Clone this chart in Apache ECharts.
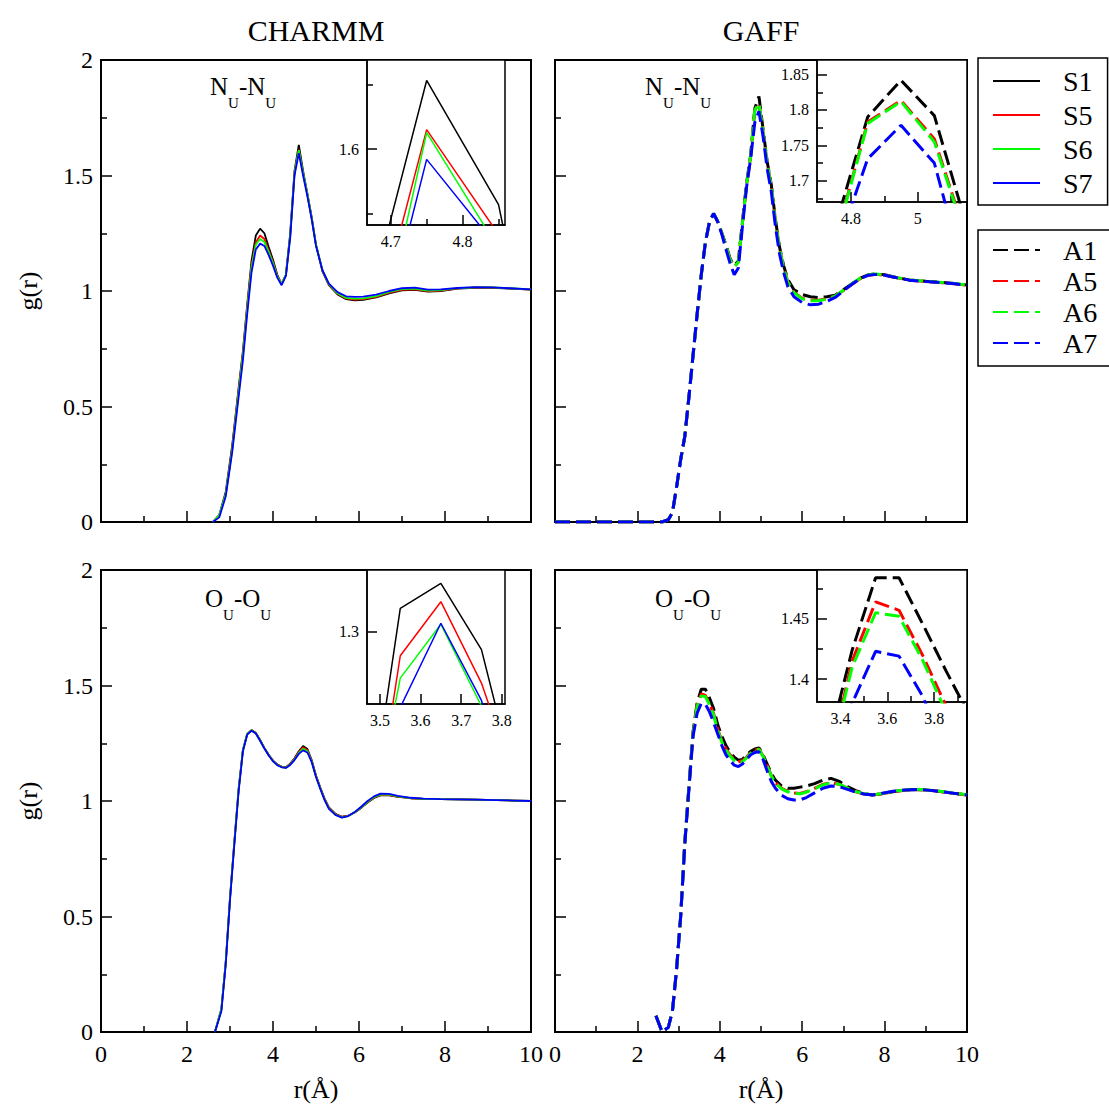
<!DOCTYPE html>
<html>
<head>
<meta charset="utf-8">
<script src="https://cdn.jsdelivr.net/npm/echarts@6.0.0/dist/echarts.min.js"></script>
<style>
html,body{margin:0;padding:0;background:#fff}
#chart{width:1109px;height:1115px}
</style>
</head>
<body>
<div id="chart"></div>
<script>
// ---- CHARMM N_U-N_U (top left) ----
var rCN = [2.6, 2.75, 2.9, 3.05, 3.2, 3.3, 3.4, 3.5, 3.6, 3.7, 3.8, 3.9, 4.0, 4.1, 4.2, 4.3, 4.4, 4.5, 4.6, 4.7, 4.8, 4.9, 5.0, 5.15, 5.3, 5.5, 5.7, 5.9, 6.1, 6.4, 6.7, 7.0, 7.3, 7.6, 7.9, 8.3, 8.7, 9.1, 9.5, 10.0];
var cnS1 = [0, 0.03, 0.13, 0.33, 0.58, 0.74, 0.94, 1.13, 1.24, 1.27, 1.25, 1.19, 1.135, 1.07, 1.03, 1.07, 1.25, 1.52, 1.632, 1.52, 1.42, 1.32, 1.20, 1.085, 1.025, 0.985, 0.965, 0.96, 0.962, 0.972, 0.99, 1.003, 1.005, 0.997, 1.0, 1.01, 1.014, 1.014, 1.01, 1.006];
var cnS5 = [0, 0.03, 0.12, 0.32, 0.57, 0.73, 0.93, 1.11, 1.21, 1.24, 1.225, 1.175, 1.125, 1.065, 1.03, 1.07, 1.24, 1.51, 1.612, 1.51, 1.42, 1.315, 1.20, 1.088, 1.028, 0.988, 0.968, 0.963, 0.965, 0.975, 0.993, 1.005, 1.007, 0.999, 1.002, 1.011, 1.015, 1.015, 1.011, 1.006];
var cnS6 = [0, 0.03, 0.12, 0.31, 0.56, 0.72, 0.92, 1.10, 1.20, 1.225, 1.212, 1.168, 1.12, 1.063, 1.03, 1.07, 1.24, 1.51, 1.61, 1.51, 1.42, 1.315, 1.20, 1.09, 1.03, 0.99, 0.97, 0.967, 0.968, 0.978, 0.996, 1.008, 1.01, 1.002, 1.004, 1.012, 1.016, 1.016, 1.012, 1.007];
var cnS7 = [0, 0.02, 0.11, 0.30, 0.54, 0.70, 0.90, 1.08, 1.18, 1.205, 1.195, 1.155, 1.11, 1.058, 1.025, 1.065, 1.23, 1.50, 1.597, 1.50, 1.41, 1.31, 1.195, 1.09, 1.032, 0.995, 0.977, 0.975, 0.976, 0.984, 1.0, 1.012, 1.015, 1.006, 1.007, 1.013, 1.017, 1.016, 1.012, 1.007];

// ---- GAFF N_U-N_U (top right) ----
var rGN = [0, 2.6, 2.75, 2.85, 2.95, 3.05, 3.15, 3.25, 3.35, 3.45, 3.55, 3.65, 3.75, 3.85, 3.95, 4.05, 4.15, 4.25, 4.35, 4.45, 4.55, 4.65, 4.75, 4.85, 4.95, 5.05, 5.15, 5.25, 5.35, 5.45, 5.55, 5.65, 5.8, 6.0, 6.2, 6.4, 6.6, 6.8, 7.0, 7.2, 7.4, 7.6, 7.8, 8.0, 8.3, 8.6, 9.0, 9.4, 9.7, 10.0];
var gnA1 = [0, 0, 0.01, 0.04, 0.15, 0.27, 0.37, 0.54, 0.72, 0.90, 1.07, 1.21, 1.30, 1.336, 1.30, 1.25, 1.20, 1.14, 1.11, 1.13, 1.30, 1.466, 1.59, 1.79, 1.842, 1.70, 1.56, 1.46, 1.31, 1.19, 1.11, 1.05, 1.005, 0.985, 0.975, 0.972, 0.975, 0.982, 1.005, 1.03, 1.055, 1.07, 1.074, 1.07, 1.058, 1.048, 1.042, 1.037, 1.032, 1.026];
var gnA5 = [0, 0, 0.01, 0.04, 0.15, 0.27, 0.37, 0.54, 0.72, 0.90, 1.07, 1.21, 1.30, 1.335, 1.30, 1.25, 1.195, 1.135, 1.105, 1.125, 1.295, 1.46, 1.585, 1.783, 1.813, 1.69, 1.555, 1.455, 1.305, 1.185, 1.10, 1.04, 0.995, 0.968, 0.96, 0.96, 0.966, 0.978, 1.002, 1.028, 1.053, 1.068, 1.072, 1.068, 1.057, 1.047, 1.041, 1.036, 1.031, 1.025];
var gnA6 = [0, 0, 0.01, 0.04, 0.15, 0.27, 0.37, 0.54, 0.72, 0.90, 1.07, 1.21, 1.30, 1.335, 1.30, 1.25, 1.195, 1.135, 1.105, 1.125, 1.295, 1.46, 1.585, 1.783, 1.812, 1.688, 1.553, 1.453, 1.303, 1.183, 1.098, 1.038, 0.993, 0.966, 0.958, 0.958, 0.965, 0.978, 1.003, 1.03, 1.055, 1.07, 1.074, 1.069, 1.058, 1.048, 1.042, 1.037, 1.032, 1.026];
var gnA7 = [0, 0, 0.01, 0.04, 0.15, 0.27, 0.37, 0.54, 0.72, 0.90, 1.07, 1.21, 1.30, 1.335, 1.30, 1.245, 1.18, 1.12, 1.07, 1.10, 1.28, 1.45, 1.575, 1.73, 1.778, 1.67, 1.53, 1.43, 1.28, 1.16, 1.08, 1.02, 0.975, 0.95, 0.94, 0.943, 0.955, 0.972, 1.0, 1.028, 1.053, 1.068, 1.072, 1.068, 1.057, 1.047, 1.041, 1.036, 1.031, 1.025];

// ---- CHARMM O_U-O_U (bottom left) ----
var rCO = [2.65, 2.8, 2.9, 3.0, 3.1, 3.2, 3.3, 3.4, 3.5, 3.6, 3.7, 3.8, 3.9, 4.0, 4.1, 4.2, 4.3, 4.4, 4.5, 4.6, 4.7, 4.8, 4.9, 5.0, 5.1, 5.2, 5.3, 5.45, 5.6, 5.75, 5.9, 6.05, 6.2, 6.35, 6.5, 6.7, 6.9, 7.2, 7.5, 7.9, 8.3, 8.7, 9.2, 9.6, 10.0];
var coS1 = [0, 0.1, 0.3, 0.58, 0.82, 1.05, 1.22, 1.29, 1.307, 1.295, 1.264, 1.23, 1.20, 1.175, 1.158, 1.149, 1.146, 1.162, 1.185, 1.215, 1.238, 1.225, 1.177, 1.11, 1.058, 1.01, 0.972, 0.945, 0.932, 0.936, 0.95, 0.97, 0.993, 1.013, 1.024, 1.024, 1.018, 1.012, 1.009, 1.008, 1.007, 1.006, 1.004, 1.002, 1.0];
var coS5 = [0, 0.1, 0.3, 0.58, 0.82, 1.05, 1.22, 1.29, 1.306, 1.294, 1.263, 1.229, 1.199, 1.174, 1.157, 1.148, 1.145, 1.16, 1.183, 1.212, 1.232, 1.22, 1.174, 1.108, 1.056, 1.008, 0.97, 0.943, 0.931, 0.936, 0.951, 0.972, 0.995, 1.015, 1.026, 1.026, 1.019, 1.012, 1.009, 1.008, 1.007, 1.006, 1.004, 1.002, 1.0];
var coS6 = [0, 0.1, 0.3, 0.58, 0.82, 1.05, 1.22, 1.29, 1.305, 1.293, 1.262, 1.228, 1.198, 1.173, 1.156, 1.147, 1.144, 1.158, 1.18, 1.208, 1.226, 1.215, 1.171, 1.106, 1.054, 1.006, 0.968, 0.941, 0.929, 0.935, 0.951, 0.973, 0.997, 1.017, 1.028, 1.028, 1.02, 1.013, 1.009, 1.008, 1.007, 1.006, 1.004, 1.002, 1.0];
var coS7 = [0, 0.09, 0.29, 0.57, 0.81, 1.04, 1.215, 1.287, 1.304, 1.292, 1.261, 1.227, 1.197, 1.172, 1.155, 1.146, 1.143, 1.156, 1.177, 1.204, 1.219, 1.21, 1.168, 1.104, 1.052, 1.004, 0.966, 0.94, 0.928, 0.935, 0.952, 0.975, 1.0, 1.02, 1.032, 1.031, 1.022, 1.014, 1.01, 1.008, 1.007, 1.006, 1.004, 1.002, 1.0];

// ---- GAFF O_U-O_U (bottom right) ----
var rGO = [2.45, 2.6, 2.75, 2.85, 2.95, 3.05, 3.15, 3.25, 3.35, 3.45, 3.55, 3.65, 3.75, 3.85, 3.95, 4.05, 4.15, 4.25, 4.35, 4.45, 4.55, 4.65, 4.75, 4.85, 4.95, 5.05, 5.15, 5.25, 5.35, 5.5, 5.65, 5.8, 5.95, 6.1, 6.3, 6.5, 6.7, 6.9, 7.1, 7.3, 7.5, 7.7, 7.9, 8.2, 8.5, 8.8, 9.1, 9.4, 9.7, 10.0];
var goA1 = [0.07, 0, 0.02, 0.09, 0.27, 0.50, 0.82, 1.06, 1.30, 1.425, 1.484, 1.484, 1.446, 1.40, 1.33, 1.28, 1.24, 1.21, 1.19, 1.177, 1.18, 1.20, 1.215, 1.225, 1.23, 1.20, 1.16, 1.12, 1.09, 1.065, 1.055, 1.055, 1.06, 1.065, 1.075, 1.09, 1.098, 1.085, 1.062, 1.045, 1.032, 1.026, 1.03, 1.04, 1.048, 1.05, 1.046, 1.04, 1.033, 1.026];
var goA5 = [0.07, 0, 0.02, 0.09, 0.27, 0.50, 0.82, 1.06, 1.29, 1.415, 1.464, 1.457, 1.42, 1.378, 1.31, 1.26, 1.225, 1.20, 1.18, 1.17, 1.175, 1.19, 1.21, 1.22, 1.225, 1.195, 1.155, 1.11, 1.08, 1.055, 1.042, 1.035, 1.033, 1.04, 1.055, 1.072, 1.08, 1.072, 1.055, 1.04, 1.03, 1.026, 1.03, 1.04, 1.047, 1.05, 1.046, 1.04, 1.033, 1.026];
var goA6 = [0.07, 0, 0.02, 0.09, 0.27, 0.50, 0.82, 1.06, 1.29, 1.41, 1.455, 1.452, 1.416, 1.373, 1.305, 1.255, 1.22, 1.195, 1.175, 1.165, 1.17, 1.187, 1.207, 1.218, 1.224, 1.193, 1.152, 1.108, 1.078, 1.052, 1.04, 1.033, 1.031, 1.038, 1.053, 1.07, 1.079, 1.072, 1.056, 1.041, 1.031, 1.027, 1.031, 1.041, 1.048, 1.051, 1.047, 1.041, 1.034, 1.027];
var goA7 = [0.07, 0, 0.02, 0.09, 0.27, 0.50, 0.81, 1.05, 1.28, 1.38, 1.423, 1.419, 1.386, 1.34, 1.29, 1.24, 1.20, 1.175, 1.155, 1.149, 1.16, 1.18, 1.20, 1.21, 1.213, 1.18, 1.13, 1.085, 1.055, 1.025, 1.01, 1.004, 1.005, 1.015, 1.035, 1.055, 1.065, 1.062, 1.05, 1.038, 1.03, 1.026, 1.032, 1.042, 1.048, 1.05, 1.046, 1.04, 1.033, 1.026];

// ---- insets (zoomed first/second peaks) ----
var rCNi = [4.65, 4.75, 4.85, 4.95];
var cnS1i = [1.438, 1.653, 1.557, 1.29];
var cnS5i = [1.402, 1.615, 1.534, 1.40];
var cnS6i = [1.363, 1.6126, 1.523, 1.40];
var cnS7i = [1.372, 1.592, 1.523, 1.40];

var rGNi = [4.75, 4.85, 4.95, 5.05, 5.15];
var gnA1i = [1.631, 1.790, 1.842, 1.792, 1.631];
var gnA5i = [1.611, 1.783, 1.8134, 1.759, 1.614];
var gnA6i = [1.609, 1.781, 1.812, 1.755, 1.612];
var gnA7i = [1.595, 1.731, 1.7784, 1.725, 1.551];

var rCOi = [3.45, 3.55, 3.65, 3.75, 3.85];
var coS1i = [1.174, 1.3117, 1.3242, 1.291, 1.21];
var coS5i = [1.156, 1.2879, 1.315, 1.2742, 1.215];
var coS6i = [1.173, 1.2767, 1.3037, 1.2626, 1.2];
var coS7i = [1.17, 1.262, 1.3042, 1.2655, 1.2];

var rGOi = [3.35, 3.45, 3.55, 3.65, 3.75, 3.85, 3.95];
var goA1i = [1.347, 1.424, 1.484, 1.484, 1.446, 1.407, 1.37];
var goA5i = [1.33, 1.415, 1.464, 1.457, 1.42, 1.378, 1.34];
var goA6i = [1.33, 1.41, 1.455, 1.452, 1.416, 1.373, 1.335];
var goA7i = [1.30, 1.38, 1.423, 1.419, 1.386, 1.34, 1.30];

var sNames = ['S1', 'S5', 'S6', 'S7'];
var aNames = ['A1', 'A5', 'A6', 'A7'];
var colors = ['#000000', '#ff0000', '#00ff00', '#0000ff'];

var FONT = 'Liberation Serif';

function pairs(r, g) {
    return r.map(function (x, i) { return [x, g[i]]; });
}

var chart = echarts.init(document.getElementById('chart'), null, {renderer: 'svg'});

var grids = [
    // main panels
    {left: 101, top: 60, width: 430, height: 462},
    {left: 555, top: 60, width: 412, height: 462},
    {left: 101, top: 570, width: 430, height: 462},
    {left: 555, top: 570, width: 412, height: 462},
    // insets
    {left: 367, top: 60, width: 138, height: 165},
    {left: 817, top: 60, width: 150, height: 142},
    {left: 367, top: 570, width: 138, height: 134},
    {left: 817, top: 570, width: 150, height: 132}
].map(function (g, i) {
    return Object.assign({
        show: true,
        borderColor: '#000',
        borderWidth: i < 4 ? 2 : 1.5,
        backgroundColor: '#fff',
        containLabel: false
    }, g);
});

var xAxes = [];
var yAxes = [];
var black = {color: '#000', width: 1.5};

function mainAxis(dim, gi, showLabel, name) {
    var isX = dim === 'x';
    var ax = {
        type: 'value', gridIndex: gi,
        position: isX ? 'bottom' : 'left',
        min: 0, max: isX ? 10 : 2, interval: isX ? 2 : 0.5,
        axisLine: {show: true, onZero: false, lineStyle: {color: '#000', width: 2}},
        axisTick: {show: true, inside: true, length: 11, lineStyle: black},
        minorTick: {show: true, splitNumber: 2, length: 6, lineStyle: black},
        splitLine: {show: false},
        axisLabel: {show: showLabel, color: '#000', fontFamily: FONT, fontSize: 24, margin: isX ? 10 : 8},
        name: name || '',
        nameLocation: 'middle',
        nameGap: isX ? 44 : 60,
        nameRotate: isX ? 0 : 90,
        nameTextStyle: {color: '#000', fontFamily: FONT, fontSize: 26}
    };
    (isX ? xAxes : yAxes).push(ax);
    return (isX ? xAxes : yAxes).length - 1;
}

function insetAxis(dim, gi, min, max, major, minor, labels) {
    var isX = dim === 'x';
    var list = isX ? xAxes : yAxes;
    list.push({
        type: 'value', gridIndex: gi, position: isX ? 'bottom' : 'left',
        min: min, max: max,
        axisLine: {show: true, onZero: false, lineStyle: black},
        axisTick: {show: true, inside: true, length: 10, customValues: major, lineStyle: black},
        axisLabel: {show: true, customValues: labels, color: '#000', fontFamily: FONT, fontSize: 16, margin: 8},
        splitLine: {show: false}
    });
    var idx = list.length - 1;
    list.push({
        type: 'value', gridIndex: gi, position: isX ? 'bottom' : 'left',
        min: min, max: max,
        axisLine: {show: false, onZero: false},
        axisTick: {show: true, inside: true, length: 6, customValues: minor, lineStyle: black},
        axisLabel: {show: false},
        splitLine: {show: false}
    });
    return idx;
}

var series = [];
function addLines(names, r, arrays, xi, yi, dashed, inset) {
    arrays.forEach(function (g, k) {
        series.push({
            type: 'line', name: names[k],
            xAxisIndex: xi, yAxisIndex: yi,
            data: pairs(r, g),
            symbol: 'none', smooth: false, clip: true,
            animation: false, silent: true,
            z: 3 + k,
            itemStyle: {color: colors[k]},
            lineStyle: {
                color: colors[k],
                width: dashed ? 3 : (inset ? 1.5 : 1.8),
                type: dashed ? [15, 6] : 'solid'
            }
        });
    });
}

// main panels
var x0 = mainAxis('x', 0, false), y0 = mainAxis('y', 0, true, 'g(r)');
var x1 = mainAxis('x', 1, false), y1 = mainAxis('y', 1, false);
var x2 = mainAxis('x', 2, true, 'r(Å)'), y2 = mainAxis('y', 2, true, 'g(r)');
var x3 = mainAxis('x', 3, true, 'r(Å)'), y3 = mainAxis('y', 3, false);

addLines(sNames, rCN, [cnS1, cnS5, cnS6, cnS7], x0, y0, false, false);
addLines(aNames, rGN, [gnA1, gnA5, gnA6, gnA7], x1, y1, true, false);
addLines(sNames, rCO, [coS1, coS5, coS6, coS7], x2, y2, false, false);
addLines(aNames, rGO, [goA1, goA5, goA6, goA7], x3, y3, true, false);

// insets
var xi0 = insetAxis('x', 4, 4.667, 4.859, [4.7, 4.8], [4.75, 4.85], [4.7, 4.8]);
var yi0 = insetAxis('y', 4, 1.5413, 1.6688, [1.6], [1.55, 1.65], [1.6]);
var xi1 = insetAxis('x', 5, 4.698, 5.148, [4.8, 5.0], [4.9, 5.1], [4.8, 5]);
var yi1 = insetAxis('y', 5, 1.670, 1.8706, [1.7, 1.75, 1.8, 1.85], [1.675, 1.725, 1.775, 1.825], [1.7, 1.75, 1.8, 1.85]);
var xi2 = insetAxis('x', 6, 3.468, 3.808, [3.5, 3.6, 3.7, 3.8], [], [3.5, 3.6, 3.7, 3.8]);
var yi2 = insetAxis('y', 6, 1.2637, 1.3309, [1.3], [], [1.3]);
var xi3 = insetAxis('x', 7, 3.30, 3.94, [3.4, 3.6, 3.8], [3.5, 3.7, 3.9], [3.4, 3.6, 3.8]);
var yi3 = insetAxis('y', 7, 1.381, 1.4904, [1.4, 1.45], [1.425, 1.475], [1.4, 1.45]);

addLines(sNames, rCNi, [cnS1i, cnS5i, cnS6i, cnS7i], xi0, yi0, false, true);
addLines(aNames, rGNi, [gnA1i, gnA5i, gnA6i, gnA7i], xi1, yi1, true, true);
addLines(sNames, rCOi, [coS1i, coS5i, coS6i, coS7i], xi2, yi2, false, true);
addLines(aNames, rGOi, [goA1i, goA5i, goA6i, goA7i], xi3, yi3, true, true);

var legendText = {color: '#000', fontFamily: FONT, fontSize: 28, lineHeight: 28, padding: [0, 0, 0, 18]};

// letter with subscript U, e.g. N_U-N_U
function pairLabel(letter, x, y) {
    var t = '{a|' + letter + '}{b|U}{a|-' + letter + '}{b|U}';
    return {
        type: 'text', x: x, y: y, silent: true,
        style: {
            text: t, align: 'left', verticalAlign: 'top',
            rich: {
                a: {fontFamily: FONT, fontSize: 25, lineHeight: 25, verticalAlign: 'top', fill: '#000'},
                b: {fontFamily: FONT, fontSize: 15, lineHeight: 36, verticalAlign: 'bottom', fill: '#000'}
            }
        }
    };
}

var option = {
    backgroundColor: '#fff',
    animation: false,
    textStyle: {fontFamily: FONT, color: '#000'},
    grid: grids,
    xAxis: xAxes,
    yAxis: yAxes,
    series: series,
    legend: [
        {
            data: sNames, orient: 'vertical', left: 978, top: 58,
            padding: [9, 15, 8, 14], itemGap: 6, itemWidth: 47, itemHeight: 14,
            borderColor: '#000', borderWidth: 1.5, selectedMode: false,
            itemStyle: {opacity: 0},
            textStyle: legendText
        },
        {
            data: aNames, orient: 'vertical', left: 978, top: 230,
            padding: [6, 15, 9, 14], itemGap: 3, itemWidth: 47, itemHeight: 14,
            borderColor: '#000', borderWidth: 1.5, selectedMode: false,
            itemStyle: {opacity: 0},
            textStyle: legendText
        }
    ],
    graphic: [
        {type: 'text', x: 316, y: 30, silent: true,
            style: {text: 'CHARMM', fontFamily: FONT, fontSize: 30, fill: '#000', align: 'center', verticalAlign: 'middle'}},
        {type: 'text', x: 761, y: 30, silent: true,
            style: {text: 'GAFF', fontFamily: FONT, fontSize: 30, fill: '#000', align: 'center', verticalAlign: 'middle'}},
        pairLabel('N', 210, 74),
        pairLabel('N', 645, 74),
        pairLabel('O', 205, 586),
        pairLabel('O', 655, 586)
    ]
};

chart.setOption(option);
</script>
</body>
</html>
